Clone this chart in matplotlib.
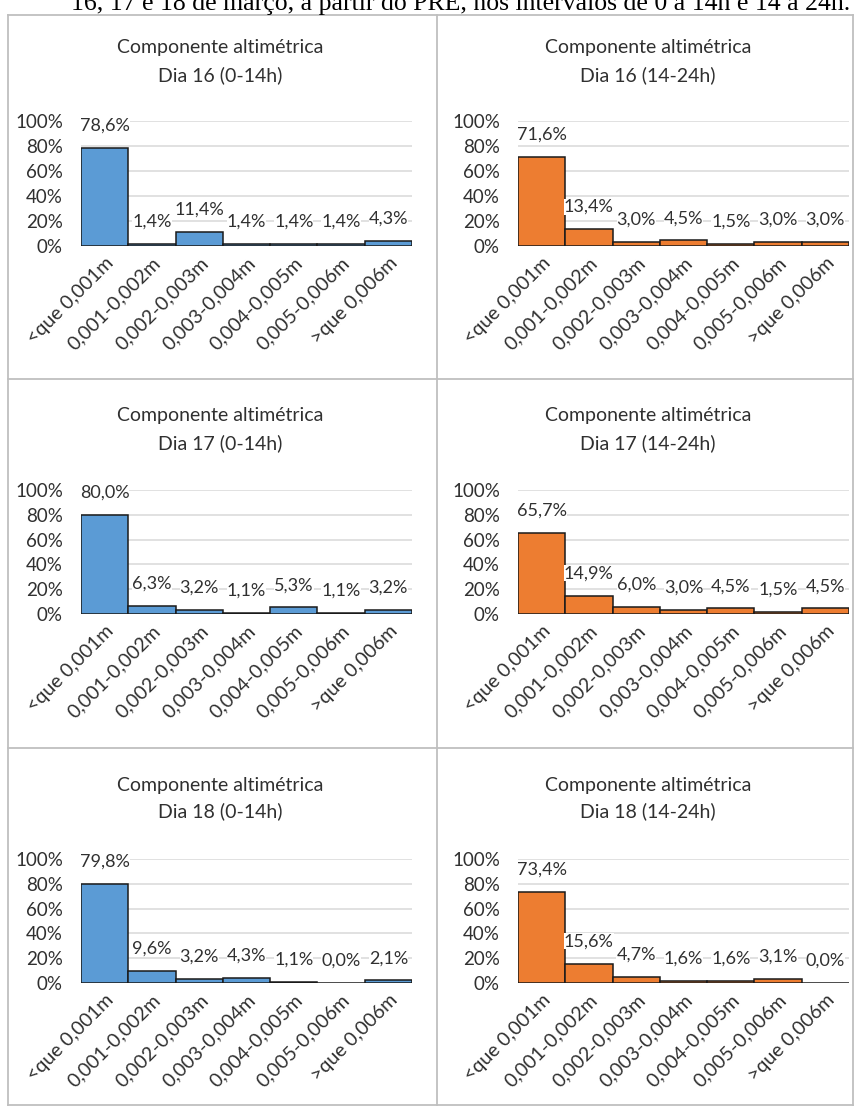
import matplotlib
matplotlib.use("Agg")
import matplotlib.pyplot as plt
from matplotlib.lines import Line2D
from matplotlib.transforms import ScaledTranslation

# ---- data ----
categories = ["<que 0,001m", "0,001-0,002m", "0,002-0,003m", "0,003-0,004m",
              "0,004-0,005m", "0,005-0,006m", ">que 0,006m"]
dia16_0_14 = [78.6, 1.4, 11.4, 1.4, 1.4, 1.4, 4.3]
dia16_14_24 = [71.6, 13.4, 3.0, 4.5, 1.5, 3.0, 3.0]
dia17_0_14 = [80.0, 6.3, 3.2, 1.1, 5.3, 1.1, 3.2]
dia17_14_24 = [65.7, 14.9, 6.0, 3.0, 4.5, 1.5, 4.5]
dia18_0_14 = [79.8, 9.6, 3.2, 4.3, 1.1, 0.0, 2.1]
dia18_14_24 = [73.4, 15.6, 4.7, 1.6, 1.6, 3.1, 0.0]
titles = ["Dia 16 (0-14h)", "Dia 16 (14-24h)", "Dia 17 (0-14h)",
          "Dia 17 (14-24h)", "Dia 18 (0-14h)", "Dia 18 (14-24h)"]
yticks = [0, 20, 40, 60, 80, 100]
ytick_labels = ["0%", "20%", "40%", "60%", "80%", "100%"]
caption = "16, 17 e 18 de março, a partir do PRE, nos intervalos de 0 a 14h e 14 a 24h."

series = [dia16_0_14, dia16_14_24, dia17_0_14, dia17_14_24, dia18_0_14, dia18_14_24]
colors = ["#5B9BD5", "#ED7D31"]

W, H = 861, 1106
fig = plt.figure(figsize=(W / 100, H / 100), dpi=100)
FONT = "Lato"
TXT = "#303030"

def fx(x):
    return x / W

def fy(y):
    return 1 - y / H

# caption (clipped at top)
fig.text(fx(461), fy(10), caption, family="Liberation Serif", fontsize=18.5,
         ha="center", va="baseline", color="black")

# panel borders
bc = "#BFBFBF"
for (x0, y0, x1, y1) in [(8, 15, 853, 15), (8, 15, 8, 1106), (853, 15, 853, 1106),
                         (437, 15, 437, 1106), (8, 379, 853, 379), (8, 748, 853, 748),
                         (8, 1105, 853, 1105)]:
    fig.add_artist(Line2D([fx(x0), fx(x1)], [fy(y0), fy(y1)], color=bc, lw=1.3,
                          transform=fig.transFigure))

# layout (pixels)
col_x = [(81, 412), (518, 849)]
title_cx = [220, 648]
row_y = [(121, 246), (490, 614), (859, 983)]
title_y = [(48, 75), (416, 443), (785, 811)]

shift = ScaledTranslation(8 / 100, -3 / 100, fig.dpi_scale_trans)

for i, vals in enumerate(series):
    r, c = divmod(i, 2)
    x0, x1 = col_x[c]
    ytop, ybot = row_y[r]
    ax = fig.add_axes([fx(x0), fy(ybot), (x1 - x0) / W, (ybot - ytop) / H])
    xs = list(range(len(categories)))
    ax.bar(xs, vals, width=1.0, color=colors[c], edgecolor="#1a1a1a",
           linewidth=1.1, zorder=3)
    ax.set_xlim(-0.5, len(categories) - 0.5)
    ax.set_ylim(0, 100)
    ax.set_yticks(yticks)
    ax.set_yticklabels(ytick_labels, fontsize=13.5, family=FONT, color=TXT)
    ax.set_xticks(xs)
    ax.set_xticklabels(categories, rotation=45, ha="right", rotation_mode="anchor",
                       fontsize=14, family=FONT, color=TXT)
    for lab in ax.get_xticklabels():
        lab.set_transform(lab.get_transform() + shift)
    ax.tick_params(axis="both", length=0)
    ax.tick_params(axis="y", pad=13)
    ax.tick_params(axis="x", pad=6)
    for s in ax.spines.values():
        s.set_visible(False)
    for t in yticks[1:]:
        ax.axhline(t, color="#D9D9D9", lw=1.1, zorder=1)
    for x, v in zip(xs, vals):
        ax.annotate(f"{v:.1f}".replace(".", ",") + "%", (x, v), xytext=(0, 16),
                    textcoords="offset points", ha="center", va="center",
                    fontsize=13, family=FONT, color=TXT, zorder=4,
                    bbox=dict(facecolor="white", edgecolor="none", pad=0.0))
    ty1, ty2 = title_y[r]
    fig.text(fx(title_cx[c]), fy(ty1), "Componente altimétrica", ha="center",
             va="center", fontsize=14, family=FONT, color=TXT)
    fig.text(fx(title_cx[c]), fy(ty2), titles[i], ha="center", va="center",
             fontsize=14, family=FONT, color=TXT)

fig.savefig("out.png", dpi=100, facecolor="white")
